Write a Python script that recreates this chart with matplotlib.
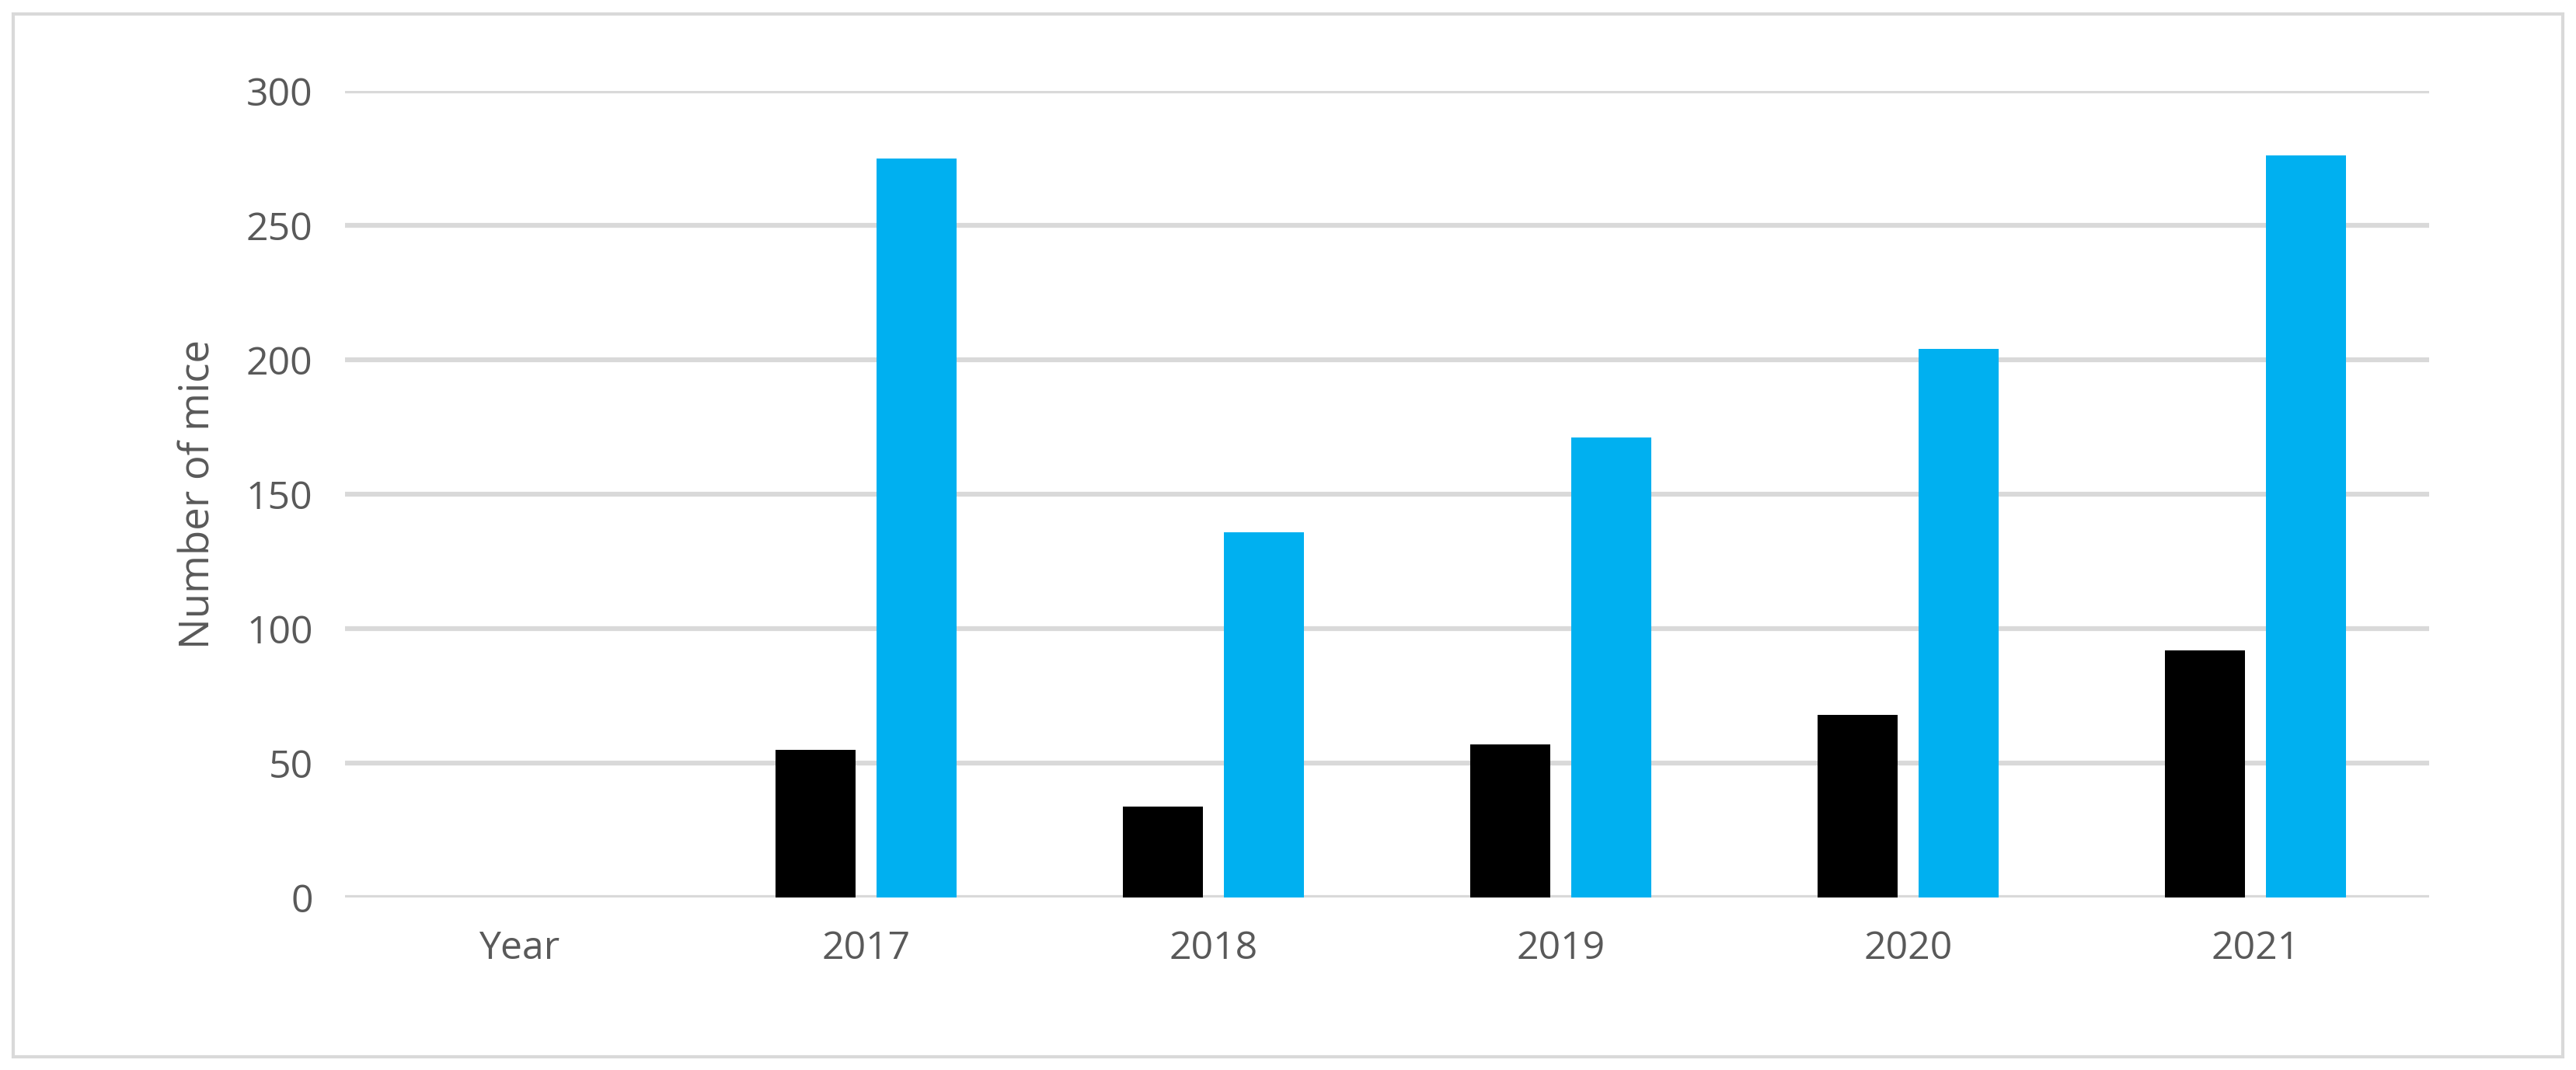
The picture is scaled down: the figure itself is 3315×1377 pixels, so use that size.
import matplotlib
matplotlib.use("Agg")
import matplotlib.pyplot as plt
from matplotlib.patches import Rectangle
import numpy as np

categories = ["Year", "2017", "2018", "2019", "2020", "2021"]
black_vals = [0, 55, 34, 57, 68, 92]
blue_vals = [0, 275, 136, 171, 204, 276]
yticks = [0, 50, 100, 150, 200, 250, 300]

plt.rcParams["font.family"] = ["Open Sans", "DejaVu Sans"]
txt = "#595959"

fig = plt.figure(figsize=(33.15, 13.77), dpi=100)
ax = fig.add_axes([0.134, 0.161, 0.809, 0.754])
fig.patches.append(Rectangle((0.005, 0.012), 0.99, 0.975, transform=fig.transFigure,
                             fill=False, edgecolor="#d9d9d9", linewidth=3))

x = np.arange(len(categories))
w = 0.23
ax.bar(x - 0.145, black_vals, w, color="black", zorder=3)
ax.bar(x + 0.145, blue_vals, w, color="#00b0f0", zorder=3)

ax.set_xlim(-0.5, len(categories) - 0.5)
ax.set_ylim(0, 300)
ax.set_yticks(yticks)
ax.set_xticks(x)
ax.set_xticklabels(categories)
ax.yaxis.grid(True, color="#d9d9d9", linewidth=4.5, zorder=0)
ax.set_axisbelow(True)
for s in ["top", "right", "left", "bottom"]:
    ax.spines[s].set_visible(False)
ax.tick_params(length=0, labelsize=36, colors=txt, pad=30)
ax.set_ylabel("Number of mice", fontsize=38, color=txt, labelpad=25)

fig.savefig("out.png", dpi=100)
